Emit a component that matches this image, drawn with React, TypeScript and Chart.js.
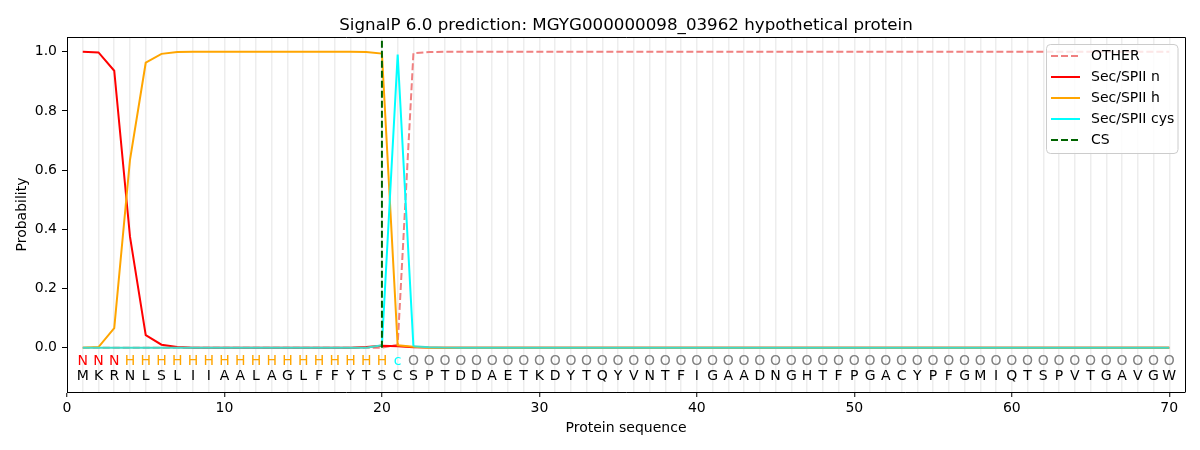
import React, { useRef, useEffect } from "react";
import { Chart, registerables } from "chart.js";

Chart.register(...registerables);

const residues = "MKRNLSLIIAALAGLFFYTSCSPTDDAETKDYTQYVNTFIGAADNGHTFPGACYPFGMIQTSPVTGAVGW".split("");
const regionLabels = "NNNHHHHHHHHHHHHHHHHHcOOOOOOOOOOOOOOOOOOOOOOOOOOOOOOOOOOOOOOOOOOOOOOOOO".split("");
const positions = residues.map((_, i) => i + 1);

// probabilities per residue
const otherProb = [
  0, 0, 0, 0, 0, 0, 0, 0, 0, 0, 0, 0, 0, 0, 0, 0, 0, 0, 0, 0,
  0.01, 0.995, 0.999, 1, 1, 1, 1, 1, 1, 1, 1, 1, 1, 1, 1, 1, 1, 1, 1, 1,
  1, 1, 1, 1, 1, 1, 1, 1, 1, 1, 1, 1, 1, 1, 1, 1, 1, 1, 1, 1,
  1, 1, 1, 1, 1, 1, 1, 1, 1, 1,
];
const nProb = [
  1.0, 0.998, 0.936, 0.375, 0.042, 0.01, 0.002, 0, 0, 0, 0, 0, 0, 0, 0, 0, 0, 0, 0.002, 0.006,
  0.005, 0.001, 0, 0, 0, 0, 0, 0, 0, 0, 0, 0, 0, 0, 0, 0, 0, 0, 0, 0,
  0, 0, 0, 0, 0, 0, 0, 0, 0, 0, 0, 0, 0, 0, 0, 0, 0, 0, 0, 0,
  0, 0, 0, 0, 0, 0, 0, 0, 0, 0,
];
const hProb = [
  0, 0.002, 0.066, 0.635, 0.963, 0.993, 0.999, 1, 1, 1, 1, 1, 1, 1, 1, 1, 1, 1, 0.999, 0.994,
  0.008, 0.003, 0, 0, 0, 0, 0, 0, 0, 0, 0, 0, 0, 0, 0, 0, 0, 0, 0, 0,
  0, 0, 0, 0, 0, 0, 0, 0, 0, 0, 0, 0, 0, 0, 0, 0, 0, 0, 0, 0,
  0, 0, 0, 0, 0, 0, 0, 0, 0, 0,
];
const cysProb = [
  0, 0, 0, 0, 0, 0, 0, 0, 0, 0, 0, 0, 0, 0, 0, 0, 0, 0, 0, 0.008,
  0.991, 0.005, 0.001, 0, 0, 0, 0, 0, 0, 0, 0, 0, 0, 0, 0, 0, 0, 0, 0, 0,
  0, 0, 0, 0, 0, 0, 0, 0, 0, 0, 0, 0, 0, 0, 0, 0, 0, 0, 0, 0,
  0, 0, 0, 0, 0, 0, 0, 0, 0, 0,
];
const csPosition = 20;
const csSpan = [0, 1.04];

const seriesNames = ["OTHER", "Sec/SPII n", "Sec/SPII h", "Sec/SPII cys", "CS"];
const seriesColors = ["#f08080", "#ff0000", "#ffa500", "#00ffff", "#006400"];
const seriesDashed = [true, false, false, false, true];
const labelColors: Record<string, string> = { N: "#ff0000", H: "#ffa500", c: "#00ffff", O: "#808080" };

const yTicks = [0, 0.2, 0.4, 0.6, 0.8, 1.0];
const FONT = "'DejaVu Sans', sans-serif";

const toPoints = (vals: number[]) => vals.map((y, i) => ({ x: positions[i], y }));

const App: React.FC = () => {
  const canvasRef = useRef<HTMLCanvasElement>(null);
  const chartRef = useRef<Chart | null>(null);

  useEffect(() => {
    document.body.style.margin = "0";
    if (chartRef.current) chartRef.current.destroy();
    const ctx = canvasRef.current!.getContext("2d")!;

    const overlay = {
      id: "overlay",
      afterDraw(chart: any) {
        const { ctx, chartArea, scales } = chart;
        const xs = scales.x;
        const ys = scales.y;
        ctx.save();
        // top and right spines
        ctx.strokeStyle = "#000";
        ctx.lineWidth = 1;
        ctx.beginPath();
        ctx.moveTo(chartArea.left, chartArea.top + 0.5);
        ctx.lineTo(chartArea.right + 0.5, chartArea.top + 0.5);
        ctx.lineTo(chartArea.right + 0.5, chartArea.bottom);
        ctx.stroke();

        // residue letters and region labels
        ctx.font = `14px ${FONT}`;
        ctx.textAlign = "center";
        ctx.textBaseline = "middle";
        residues.forEach((r, i) => {
          const px = xs.getPixelForValue(positions[i]);
          ctx.fillStyle = labelColors[regionLabels[i]];
          ctx.fillText(regionLabels[i], px, ys.getPixelForValue(-0.046));
          ctx.fillStyle = "#000";
          ctx.fillText(r, px, ys.getPixelForValue(-0.097));
        });

        // title
        ctx.font = `16.7px ${FONT}`;
        ctx.fillStyle = "#000";
        ctx.textBaseline = "alphabetic";
        ctx.fillText(
          "SignalP 6.0 prediction: MGYG000000098_03962 hypothetical protein",
          (chartArea.left + chartArea.right) / 2,
          29.5
        );

        // axis titles
        ctx.font = `14px ${FONT}`;
        ctx.textBaseline = "top";
        ctx.fillText("Protein sequence", (chartArea.left + chartArea.right) / 2, 421);
        ctx.translate(22, (chartArea.top + chartArea.bottom) / 2);
        ctx.rotate(-Math.PI / 2);
        ctx.textBaseline = "middle";
        ctx.fillText("Probability", 0, 0);
        ctx.restore();

        // legend
        ctx.save();
        const bx = 1046.5, by = 44.5, bw = 131.5, bh = 109, r = 4;
        ctx.fillStyle = "rgba(255,255,255,0.8)";
        ctx.strokeStyle = "#cccccc";
        ctx.lineWidth = 1;
        ctx.beginPath();
        ctx.roundRect(bx, by, bw, bh, r);
        ctx.fill();
        ctx.stroke();
        ctx.font = `14px ${FONT}`;
        ctx.textAlign = "left";
        ctx.textBaseline = "middle";
        seriesNames.forEach((name, i) => {
          const rowY = 56 + i * 21;
          ctx.strokeStyle = seriesColors[i];
          ctx.lineWidth = 2;
          ctx.setLineDash(seriesDashed[i] ? [7, 3] : []);
          ctx.beginPath();
          ctx.moveTo(1051, rowY);
          ctx.lineTo(1080, rowY);
          ctx.stroke();
          ctx.fillStyle = "#000";
          ctx.fillText(name, 1091, rowY);
        });
        ctx.restore();
      },
    };

    const series = [otherProb, nProb, hProb, cysProb];

    chartRef.current = new Chart(ctx, {
      type: "line",
      data: {
        datasets: [
          ...series.map((vals, i) => ({
            label: seriesNames[i],
            data: toPoints(vals),
            borderColor: seriesColors[i],
            borderWidth: 2,
            borderDash: seriesDashed[i] ? [7, 3] : [],
            pointRadius: 0,
            tension: 0,
            fill: false,
            order: 5 - i,
            segment:
              i === 3
                ? {
                    borderColor: (c: any) =>
                      c.p0.parsed.y < 0.02 && c.p1.parsed.y < 0.02 ? "#40dcc8" : undefined,
                  }
                : undefined,
          })),
          {
            label: seriesNames[4],
            data: csSpan.map((y) => ({ x: csPosition, y })),
            borderColor: seriesColors[4],
            borderWidth: 2,
            borderDash: [7, 3],
            pointRadius: 0,
            fill: false,
            order: 1,
          },
        ],
      },
      options: {
        animation: false,
        responsive: true,
        maintainAspectRatio: false,
        layout: { padding: { top: 37, right: 15, left: 0, bottom: 0 } },
        plugins: {
          legend: { display: false },
          title: { display: false },
          tooltip: { enabled: false },
        },
        scales: {
          x: {
            type: "linear",
            min: 0,
            max: 71,
            afterBuildTicks: (scale: any) => {
              scale.ticks = Array.from({ length: 71 }, (_, v) => ({ value: v }));
            },
            afterFit: (scale: any) => {
              scale.height = 58;
            },
            ticks: {
              autoSkip: false,
              maxRotation: 0,
              padding: 3,
              color: "#000",
              font: { family: FONT, size: 14 },
              callback: (v: any) => (v % 10 === 0 ? String(v) : ""),
            },
            grid: {
              drawOnChartArea: true,
              color: (c: any) => (c.tick && c.tick.value === 0 ? "rgba(0,0,0,0)" : "rgba(0,0,0,0.07)"),
              lineWidth: 1.5,
              tickLength: 5,
              tickWidth: 1,
              tickColor: (c: any) => (c.tick && c.tick.value % 10 === 0 ? "#000" : "rgba(0,0,0,0)"),
            },
            border: { display: true, color: "#000", width: 1 },
          },
          y: {
            type: "linear",
            min: -0.15,
            max: 1.05,
            afterBuildTicks: (scale: any) => {
              scale.ticks = yTicks.map((v) => ({ value: v }));
            },
            afterFit: (scale: any) => {
              scale.width = 67;
            },
            ticks: {
              padding: 5,
              color: "#000",
              font: { family: FONT, size: 14 },
              callback: (v: any) => Number(v).toFixed(1),
            },
            grid: {
              drawOnChartArea: false,
              tickLength: 5,
              tickWidth: 1,
              tickColor: "#000",
            },
            border: { display: true, color: "#000", width: 1 },
          },
        },
      },
      plugins: [overlay],
    });

    return () => {
      if (chartRef.current) {
        chartRef.current.destroy();
        chartRef.current = null;
      }
    };
  }, []);

  return (
    <div style={{ position: "absolute", left: 0, top: 0, width: 1200, height: 450 }}>
      <canvas ref={canvasRef} />
    </div>
  );
};

export default App;
